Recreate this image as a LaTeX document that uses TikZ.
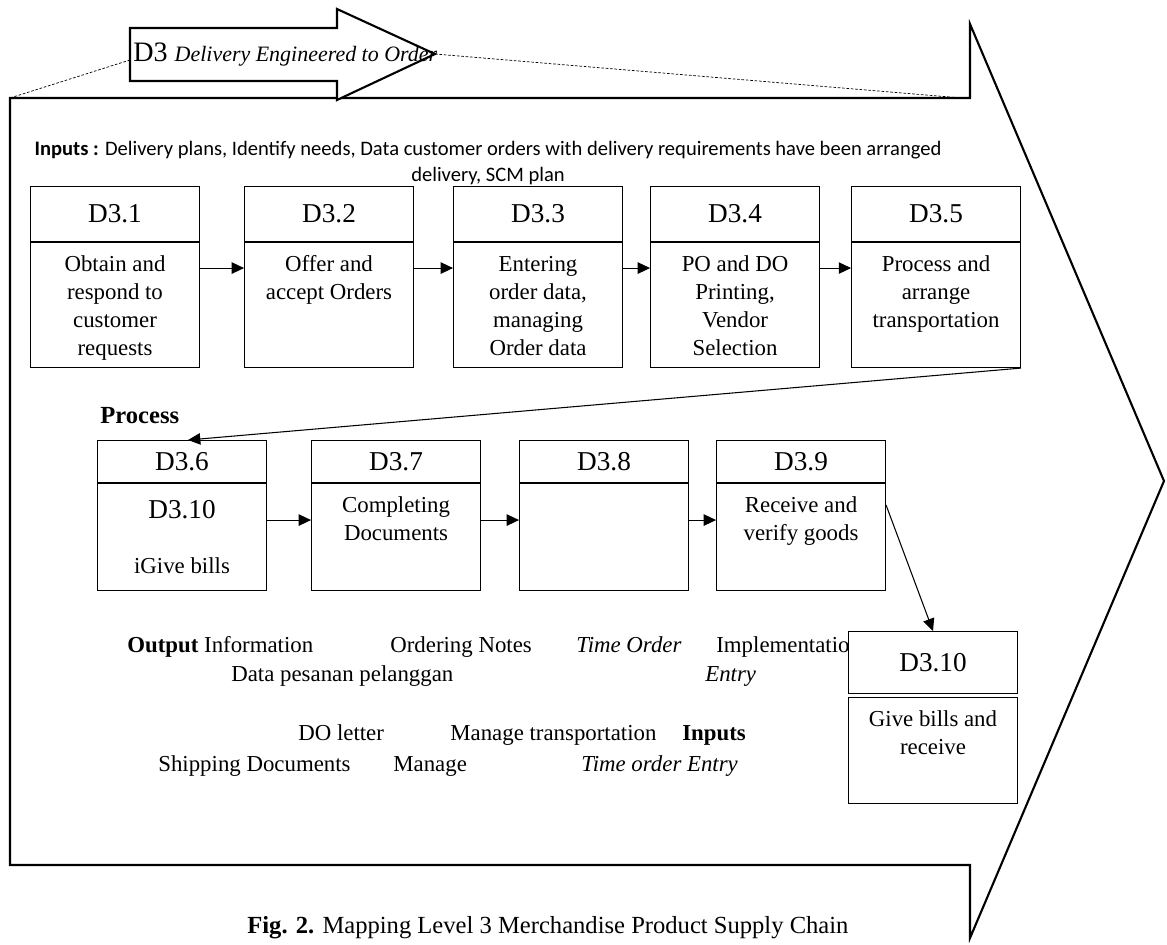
\documentclass[tikz,border=0pt]{standalone}
\usepackage{fontspec}
\setmainfont{Liberation Serif}
\newfontfamily\calibri{Carlito}
\usetikzlibrary{arrows.meta,positioning,calc}

% box body text, hung from the top of the box
\newcommand{\bodytxt}[3][16.5pt]{\parbox[c][#2][t]{3.3cm}{\centering\rule{0pt}{#1}#3}}

\begin{document}
\begin{tikzpicture}[
  x=0.02cm, y=-0.02cm,
  hdr/.style={rectangle, draw, line width=0.6pt, minimum width=3.38cm,
              minimum height=1.1cm, inner sep=0pt, fill=white,
              font=\fontsize{15.5}{18}\selectfont},
  body/.style={rectangle, draw, line width=0.6pt, minimum width=3.38cm,
               inner sep=0pt, fill=white, font=\fontsize{13}{16}\selectfont},
  lbl/.style={inner sep=0pt, anchor=base west, font=\fontsize{13}{16}\selectfont},
  arr/.style={-{Triangle[length=7pt,width=6.5pt]}, line width=0.6pt},
  outline/.style={line width=1.2pt, line join=miter},
  guide/.style={dash pattern=on 1.5pt off 1pt, line width=0.4pt},
]
\useasboundingbox (0,0) rectangle (1167,944);

% Big arrow frame
\draw[outline] (10,98) -- (970,98) -- (970,24) -- (1164,481) -- (970,938)
  -- (970,865) -- (10,865) -- cycle;

% Guide lines from the title arrow
\draw[guide] (130,60) -- (10,98);
\draw[guide] (435,54) -- (962,98);

% Title arrow
\draw[outline, fill=white] (130,28) -- (337,28) -- (337,9) -- (435,54)
  -- (337,100) -- (337,81) -- (130,81) -- cycle;
\node[lbl, font=\fontsize{16}{18}\selectfont] (title) at (133,61)
  {D3 {\fontsize{12.5}{14}\selectfont\itshape Delivery Engineered to Order}};

% Inputs
\node[font=\calibri\fontsize{11.7}{15}\selectfont, align=center, inner sep=0pt] (inputs) at (488,163)
  {\textbf{Inputs :} Delivery plans, Identify needs, Data customer orders with delivery requirements have been arranged\\
   delivery, SCM plan};

% Row 1: D3.1 - D3.5
\node[hdr, anchor=north west] (d31h) at (30,186) {D3.1};
\node[hdr, right=0.88cm of d31h] (d32h) {D3.2};
\node[hdr, right=0.78cm of d32h] (d33h) {D3.3};
\node[hdr, right=0.54cm of d33h] (d34h) {D3.4};
\node[hdr, right=0.62cm of d34h] (d35h) {D3.5};

\node[body, below=0pt of d31h] (d31) {\bodytxt{2.5cm}{Obtain and\\respond to\\customer\\requests}};
\node[body, below=0pt of d32h] (d32) {\bodytxt{2.5cm}{Offer and\\accept Orders}};
\node[body, below=0pt of d33h] (d33) {\bodytxt{2.5cm}{Entering\\order data,\\managing\\Order data}};
\node[body, below=0pt of d34h] (d34) {\bodytxt{2.5cm}{PO and DO\\Printing,\\Vendor\\Selection}};
\node[body, below=0pt of d35h] (d35) {\bodytxt{2.5cm}{Process and\\arrange\\transportation}};

\node[lbl, font=\fontsize{14}{16}\selectfont\bfseries] (process) at (100,423) {Process};

% Row 2: D3.6 - D3.9
\node[hdr, minimum height=0.84cm, anchor=north west] (d36h) at (97,440) {D3.6};
\node[hdr, minimum height=0.84cm, right=0.88cm of d36h] (d37h) {D3.7};
\node[hdr, minimum height=0.84cm, right=0.76cm of d37h] (d38h) {D3.8};
\node[hdr, minimum height=0.84cm, right=0.54cm of d38h] (d39h) {D3.9};

\node[body, below=0pt of d36h] (d36) {\bodytxt[20pt]{2.14cm}{{\fontsize{15.5}{16}\selectfont D3.10}\\[15pt]iGive bills}};
\node[body, below=0pt of d37h] (d37) {\bodytxt{2.14cm}{Completing\\Documents}};
\node[body, below=0pt of d38h] (d38) {\bodytxt{2.14cm}{}};
\node[body, below=0pt of d39h] (d39) {\bodytxt{2.14cm}{Receive and\\verify goods}};

% D3.10
\node[hdr, minimum height=1.24cm, anchor=north west] (d310h) at (848,631) {D3.10};
\node[body, below=0.06cm of d310h] (d310) {\bodytxt{2.12cm}{Give bills and\\receive}};

% Outputs and inputs
\node[lbl] (outinfo) at (127,652) {\textbf{Output} Information};
\node[lbl] (ordnotes) at (390,652) {Ordering Notes};
\node[lbl] (timeord) at (576,652) {\textit{Time Order}};
\node[lbl] (implem) at (716,652) {Implementatio};
\node[lbl] (datapes) at (231,681) {Data pesanan pelanggan};
\node[lbl] (entry) at (705,681) {\textit{Entry}};
\node[lbl] (doletter) at (298,740) {DO letter};
\node[lbl] (mantrans) at (450,740) {Manage transportation};
\node[lbl] (inputs2) at (682,740) {\textbf{Inputs}};
\node[lbl] (shipdoc) at (158,771) {Shipping Documents};
\node[lbl] (manage) at (393,771) {Manage};
\node[lbl] (timeent) at (581,771) {\textit{Time order Entry}};

% Caption
\node[lbl, font=\fontsize{14}{16}\selectfont] (caption) at (247,933)
  {\textbf{Fig. 2.} Mapping Level 3 Merchandise Product Supply Chain};

% Arrows
\draw[arr] ($(d31.north east)+(0,26)$) -- ($(d32.north west)+(0,26)$);
\draw[arr] ($(d32.north east)+(0,26)$) -- ($(d33.north west)+(0,26)$);
\draw[arr] ($(d33.north east)+(0,26)$) -- ($(d34.north west)+(0,26)$);
\draw[arr] ($(d34.north east)+(0,26)$) -- ($(d35.north west)+(0,26)$);
\draw[arr] (d35.south east) -- ($(d36h.north)+(6,0)$);
\draw[arr] ($(d36.north east)+(0,37)$) -- ($(d37.north west)+(0,37)$);
\draw[arr] ($(d37.north east)+(0,37)$) -- ($(d38.north west)+(0,37)$);
\draw[arr] ($(d38.north east)+(0,37)$) -- ($(d39.north west)+(0,37)$);
\draw[arr] ($(d39.north east)+(0,22)$) -- (d310h.north);

\end{tikzpicture}
\end{document}
